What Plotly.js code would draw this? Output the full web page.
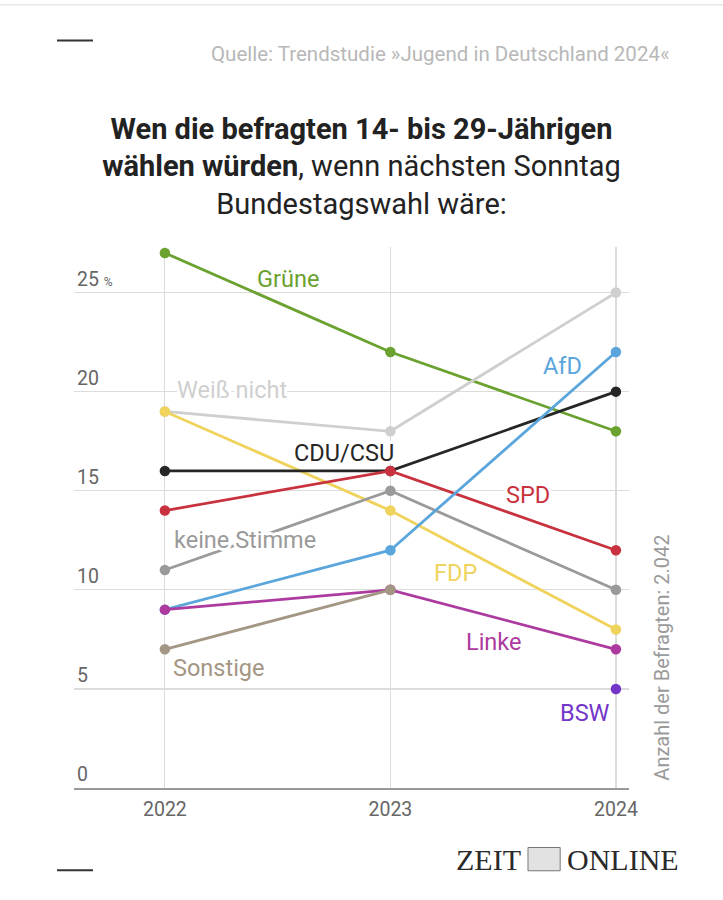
<!DOCTYPE html>
<html>
<head>
<meta charset="utf-8">
<script src="https://cdn.plot.ly/plotly-3.0.1.min.js"></script>
<style>
  html, body { margin: 0; padding: 0; background: #fff; }
  #chart { width: 723px; height: 900px; }
</style>
</head>
<body>
<div id="chart"></div>
<script>
// ---- Data (values in %) ----
const years = [2022, 2023, 2024];
const parties = ["Grüne", "Weiß nicht", "FDP", "CDU/CSU", "SPD", "keine Stimme", "AfD", "Linke", "Sonstige", "BSW"];
const grune       = [27, 22, 18];
const weissNicht  = [19, 18, 25];
const fdp         = [19, 14, 8];
const cdu         = [16, 16, 20];
const spd         = [14, 16, 12];
const keineStimme = [11, 15, 10];
const afd         = [9, 12, 22];
const linke       = [9, 10, 7];
const sonstige    = [7, 10, null];
const bsw         = [null, null, 5];
const yTickVals   = [0, 5, 10, 15, 20, 25];
const yTickText   = ["0", "5", "10", "15", "20", "25 <span style='font-size:12px'>%</span>"];
const xTickText   = ["2022", "2023", "2024"];

const seriesValues = [grune, weissNicht, fdp, cdu, spd, keineStimme, afd, linke, sonstige, bsw];
const colors = ["#6aa12f", "#cfcfcf", "#efd35c", "#262626", "#c8323f", "#9a9a9a", "#5aa6dc", "#ad3a9e", "#a39684", "#7436c9"];

const FONT = "Roboto, 'Noto Sans', sans-serif";

const traces = seriesValues.map((vals, i) => ({
  type: "scatter",
  mode: "lines+markers",
  name: parties[i],
  x: years,
  y: vals,
  connectgaps: false,
  line: { color: colors[i], width: 2.8 },
  marker: { color: colors[i], size: 10.5 },
  hoverinfo: "skip"
}));

// label placements (data coordinates)
const labelPos = {
  "Grüne":        [2022.545, 25.7],
  "Weiß nicht":   [2022.297, 20.06],
  "CDU/CSU":      [2022.794, 16.93],
  "SPD":          [2023.61, 14.81],
  "keine Stimme": [2022.355, 12.54],
  "FDP":          [2023.29, 10.87],
  "AfD":          [2023.765, 21.32],
  "Linke":        [2023.46, 7.39],
  "Sonstige":     [2022.24, 6.04],
  "BSW":          [2023.862, 3.81]
};

const annotations = parties.map((p, i) => ({
  x: labelPos[p][0], y: labelPos[p][1], xref: "x", yref: "y",
  text: p, showarrow: false,
  font: { family: FONT, size: 23.5, color: colors[i] },
  xanchor: "center", yanchor: "middle"
}));

annotations.push({
  xref: "paper", yref: "paper", x: 1.0775, y: 1.356,
  xanchor: "right", yanchor: "middle", showarrow: false,
  text: "Quelle: Trendstudie »Jugend in Deutschland 2024«",
  font: { family: FONT, size: 20.5, color: "#b8b8b8" }
});
annotations.push({
  xref: "paper", yref: "paper", x: 1.0595, y: 0.241,
  xanchor: "center", yanchor: "middle", showarrow: false, textangle: -90,
  text: "Anzahl der Befragten: 2.042",
  font: { family: FONT, size: 20, color: "#9a9a9a" }
});
annotations.push({
  xref: "paper", yref: "paper", x: 0.809, y: -0.132,
  xanchor: "right", yanchor: "middle", showarrow: false,
  text: "ZEIT",
  font: { family: "'Liberation Serif', serif", size: 30, color: "#2a2a2a" }
});
annotations.push({
  xref: "paper", yref: "paper", x: 0.885, y: -0.132,
  xanchor: "left", yanchor: "middle", showarrow: false,
  text: "ONLINE",
  font: { family: "'Liberation Serif', serif", size: 30, color: "#2a2a2a" }
});

const shapes = [
  // top border
  { type: "line", xref: "paper", yref: "paper", x0: -0.2, x1: 1.3, y0: 1.448, y1: 1.448, line: { color: "#e6e6e6", width: 1.5 } },
  // top-left dash
  { type: "line", xref: "paper", yref: "paper", x0: -0.0306, x1: 0.0342, y0: 1.3816, y1: 1.3816, line: { color: "#333", width: 2 } },
  // bottom-left dash
  { type: "line", xref: "paper", yref: "paper", x0: -0.0306, x1: 0.0342, y0: -0.152, y1: -0.152, line: { color: "#333", width: 2 } },
  // emblem placeholder
  { type: "rect", xref: "paper", yref: "paper", x0: 0.818, x1: 0.876, y0: -0.153, y1: -0.110, line: { color: "#777", width: 1 }, fillcolor: "#e2e2e2" }
];

const layout = {
  width: 723, height: 900,
  paper_bgcolor: "#fff", plot_bgcolor: "#fff",
  margin: { l: 74, r: 94, t: 247, b: 112 },
  showlegend: false,
  font: { family: FONT, color: "#555" },
  title: {
    text: "<b>Wen die befragten 14- bis 29-Jährigen</b><br><b>wählen würden</b>, wenn nächsten Sonntag<br>Bundestagswahl wäre:",
    font: { family: FONT, size: 29, color: "#222" },
    x: 0.5, xref: "container", xanchor: "center",
    y: 0.846, yref: "container", yanchor: "top"
  },
  xaxis: {
    range: [2021.597, 2024.058],
    tickvals: years, ticktext: xTickText,
    showgrid: true, gridcolor: "#dcdcdc", gridwidth: 1.2,
    zeroline: false,
    showline: true, linecolor: "#999", linewidth: 1.5,
    ticks: "", ticklabelstandoff: 3,
    tickfont: { family: FONT, size: 19.5, color: "#666" },
    fixedrange: true
  },
  yaxis: {
    range: [0, 27.3],
    tickvals: yTickVals, ticktext: yTickText,
    showgrid: true, gridcolor: "#dcdcdc", gridwidth: 1.2,
    zeroline: false, showline: false,
    ticks: "", ticklabelposition: "inside top",
    tickfont: { family: FONT, size: 19.5, color: "#666" },
    fixedrange: true
  },
  annotations: annotations,
  shapes: shapes
};

Plotly.newPlot("chart", traces, layout, { displayModeBar: false, staticPlot: true }).then(() => {
  // white halo behind series labels
  const texts = document.querySelectorAll("#chart .annotation-text");
  texts.forEach((t, i) => {
    if (i < parties.length) {
      t.style.paintOrder = "stroke";
      t.style.stroke = "#ffffff";
      t.style.strokeWidth = "6px";
      t.style.strokeLinejoin = "round";
    }
  });
});
</script>
</body>
</html>
